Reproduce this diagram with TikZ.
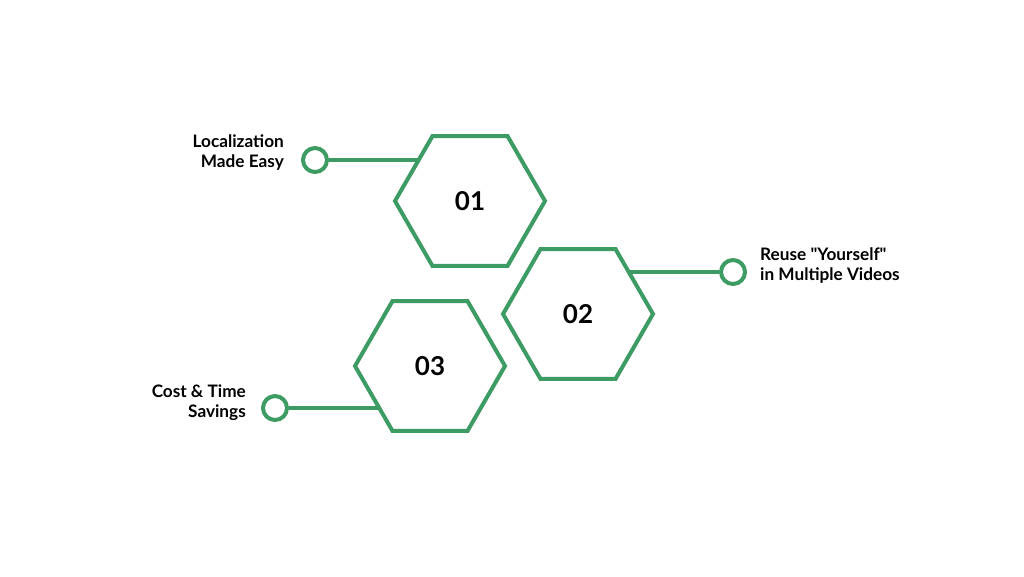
\documentclass[tikz,border=0pt]{standalone}
\usepackage{fontspec}
\setmainfont{Lato}[Ligatures=TeXOff]
\usetikzlibrary{shapes.geometric}
\definecolor{hexgreen}{RGB}{61,155,100}
\tikzset{
  hexa/.style={regular polygon, regular polygon sides=6, minimum size=150pt, inner sep=0pt, draw=hexgreen, line width=4pt, fill=white, font=\fontsize{26}{28}\selectfont\bfseries},
  dot/.style={circle, minimum size=24pt, inner sep=0pt, draw=hexgreen, line width=4pt, fill=white},
  link/.style={draw=hexgreen, line width=4pt},
  lbl/.style={font=\fontsize{17.2}{20}\selectfont\bfseries, inner sep=0pt}
}
\begin{document}
\begin{tikzpicture}[x=1pt,y=-1pt]
\useasboundingbox (0,0) rectangle (1024,576);

\coordinate (p1) at (470,201);
\coordinate (p2) at (578,314);
\coordinate (p3) at (430,366);

\node (d1) [dot] at (315,160) {};
\node (d2) [dot] at (733,272) {};
\node (d3) [dot] at (275,408) {};

\draw [link] (d1) -- (p1 |- d1);
\draw [link] (d2) -- (p2 |- d2);
\draw [link] (d3) -- (p3 |- d3);

\node (h1) [hexa] at (p1) {01};
\node (h2) [hexa] at (p2) {02};
\node (h3) [hexa] at (p3) {03};

\node (t1) [lbl, align=right, anchor=east] at (284,153) {Localization\\Made Easy};
\node (t2) [lbl, align=left, anchor=west] at (760,266) {Reuse "Yourself"\\in Multiple Videos};
\node (t3) [lbl, align=right, anchor=east] at (246,403) {Cost \& Time\\Savings};
\end{tikzpicture}
\end{document}
